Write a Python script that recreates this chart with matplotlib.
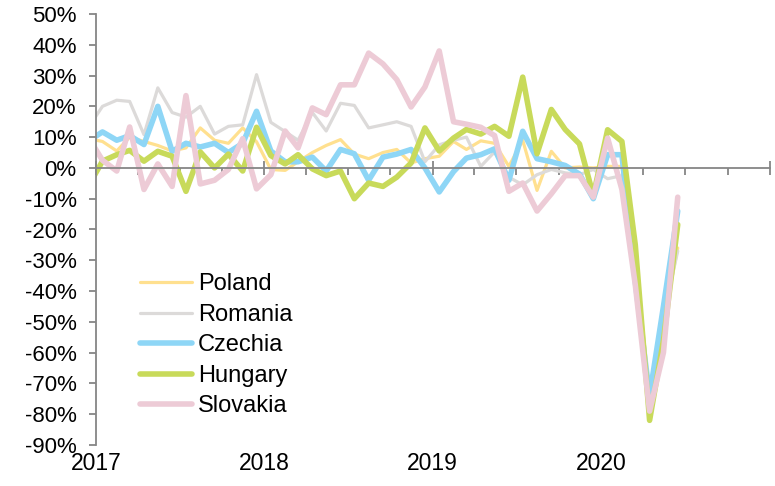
import matplotlib
matplotlib.use("Agg")
import matplotlib.pyplot as plt
import matplotlib.dates as mdates
import matplotlib.transforms as mtransforms
from matplotlib.ticker import MultipleLocator, FuncFormatter
import numpy as np
import pandas as pd

plt.rcParams['font.family'] = ['Liberation Sans', 'DejaVu Sans']

# monthly points (mid-month), Dec 2016 .. Jun 2020 ; first one falls left of the axis
months = pd.date_range("2016-12-01", "2020-06-01", freq="MS") + pd.Timedelta(days=14)

poland = [9.5, 8.6, 5.5, 10, 8.6, 7.3, 5.5, 6.5, 13, 9, 8, 13, 8.5,
          -0.5, -0.8, 2, 5, 7.3, 9.2, 4.5, 3, 5, 6, 1.6, 3, 3.8, 8.6,
          6, 8.8, 8, 0.5, 9, -7.3, 5.4, 0, 0.3, 0, 0.5, 0.5, -28, -74, -50, -26]
romania = [13, 20, 22, 21.6, 10.8, 26, 18, 16.5, 20, 11, 13.5, 14, 30.3,
           14.8, 11.8, 9, 18, 12, 21, 20.3, 13, 14, 15, 13.5, 2, 7.5, 9,
           10, 0.5, 5.2, -3, -5.5, -2.2, -0.5, -1.6, -2.2, -0.5, -3.5, -2.5, -35, -76, -48, -27]
czechia = [8.7, 11.7, 9, 10.5, 7.6, 20, 5.4, 8, 6.8, 8, 5, 8, 18.4,
           5.5, 2, 2, 3.5, -1, 6, 4.6, -4, 3.5, 4.5, 6, 0, -7.8, -1.2,
           3.2, 4.3, 6.2, -4, 11.9, 3, 2, 0.8, -2, -10, 4.3, 4.3, -37, -74, -45, -14]
hungary = [-6, 2.2, 4.3, 5.7, 2.2, 5.4, 3.8, -7.6, 5.2, 0, 4.5, -1, 13.2,
           4, 1.3, 4.3, -0.3, -2.5, -1, -10, -4.9, -6, -3, 1.6, 13, 5.5, 9.7,
           12.5, 11, 13.5, 10.3, 29.5, 4.6, 19, 12.5, 7.8, -9, 12.4, 8.6, -25, -82, -56, -18.4]
slovakia = [10, 2.5, -1, 13.3, -7, 1.3, -6, 23.5, -5.2, -4, -0.5, 9.5, -6.8,
            -2.2, 12, 6.5, 19.5, 17.3, 27, 27, 37.3, 33.8, 28.7, 19.8, 26.3, 38, 15,
            14.2, 13.2, 10.5, -7.6, -4.9, -14, -8.4, -2.5, -2.5, -9.5, 9.7, -7, -38, -79, -60, -9.5]

names = ["Poland", "Romania", "Czechia", "Hungary", "Slovakia"]
colors = ["#FFE08F", "#DCDAD9", "#8ED6F6", "#C8DA5A", "#EDCBD6"]
widths = [2.3, 2.3, 4.0, 4.0, 4.0]
years = [2017, 2018, 2019, 2020]

fig = plt.figure(figsize=(7.75, 4.86), dpi=100)
ax = fig.add_axes([96 / 775, 1 - 445 / 486, (770 - 96) / 775, (445 - 14) / 486])

for name, vals, col, lw in zip(names, [poland, romania, czechia, hungary, slovakia], colors, widths):
    ax.plot(months, np.array(vals) / 100, color=col, lw=lw, label=name,
            solid_joinstyle='round', solid_capstyle='round')

ax.set_xlim(pd.Timestamp("2017-01-01"), pd.Timestamp("2021-01-01"))
ax.set_ylim(-0.9, 0.5)

axis_col = "#868686"
for s in ["top", "right"]:
    ax.spines[s].set_visible(False)
ax.spines["bottom"].set_position(("data", 0))
for s in ["left", "bottom"]:
    ax.spines[s].set_color(axis_col)
    ax.spines[s].set_linewidth(1.3)

ax.yaxis.set_major_locator(MultipleLocator(0.1))
ax.yaxis.set_major_formatter(FuncFormatter(lambda v, p: "{}%".format(int(round(v * 100)))))
ax.tick_params(axis='y', direction='out', length=5, width=1.3, color=axis_col,
               labelsize=16, pad=9)

ax.xaxis.set_major_locator(mdates.YearLocator())
ax.xaxis.set_minor_locator(mdates.MonthLocator(bymonth=[4, 7, 10]))
ax.tick_params(axis='x', which='major', direction='inout', length=10, width=1.3,
               color=axis_col, labelbottom=False)
ax.tick_params(axis='x', which='minor', direction='out', length=5, width=1.3,
               color=axis_col, labelbottom=False)

trans = mtransforms.blended_transform_factory(ax.transData, ax.transAxes)
for y in years:
    ax.text(mdates.date2num(pd.Timestamp(f"{y}-01-01")), -0.042, str(y), transform=trans,
            ha='center', va='center', fontsize=16.5)

ax.legend(loc='upper left', bbox_to_anchor=(0.065, 0.398), frameon=False, fontsize=17,
          handlelength=2.2, handletextpad=0.25, labelspacing=0.36, borderpad=0,
          borderaxespad=0)

fig.savefig("out.png", dpi=100)
